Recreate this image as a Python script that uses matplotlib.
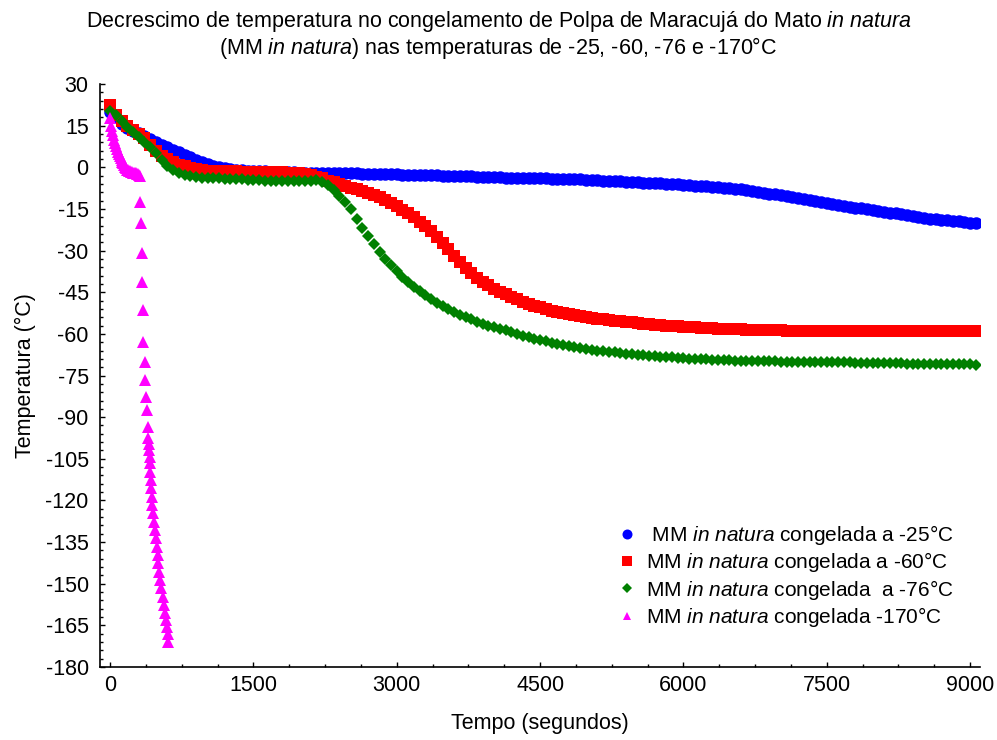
import numpy as np
import matplotlib
matplotlib.use("Agg")
from matplotlib import pyplot as plt
from matplotlib.ticker import MultipleLocator

plt.rcParams['font.family'] = ['Liberation Sans', 'DejaVu Sans']
plt.rcParams['mathtext.fontset'] = 'custom'
plt.rcParams['mathtext.rm'] = 'Liberation Sans'
plt.rcParams['mathtext.it'] = 'Liberation Sans:italic'
plt.rcParams['axes.unicode_minus'] = False

# tempo de amostragem (s) das series -25, -60 e -76 °C
tempo = np.arange(0, 9061, 60)

temp_25 = [
    20.0, 18.0, 15.5, 14.0, 13.0, 12.2, 11.4, 10.3, 9.1, 8.1,
    7.3, 6.4, 5.4, 4.5, 3.6, 2.7, 1.8, 1.1, 0.5, 0.0,
    -0.4, -0.7, -0.9, -1.1, -1.2, -1.3, -1.4, -1.5, -1.6, -1.7,
    -1.7, -1.8, -1.8, -1.9, -1.9, -2.0, -2.0, -2.0, -2.1, -2.1,
    -2.1, -2.2, -2.2, -2.2, -2.3, -2.3, -2.3, -2.4, -2.4, -2.5,
    -2.5, -2.6, -2.6, -2.7, -2.7, -2.8, -2.8, -2.9, -3.1, -3.1,
    -3.2, -3.2, -3.3, -3.3, -3.4, -3.4, -3.5, -3.5, -3.6, -3.7,
    -3.7, -3.8, -3.8, -3.9, -3.9, -4.0, -4.0, -4.1, -4.1, -4.2,
    -4.2, -4.3, -4.4, -4.5, -4.6, -4.7, -4.8, -4.9, -5.0, -5.1,
    -5.2, -5.3, -5.4, -5.5, -5.6, -5.7, -5.8, -5.9, -6.1, -6.2,
    -6.3, -6.4, -6.6, -6.7, -6.9, -7.0, -7.2, -7.4, -7.6, -7.8,
    -8.0, -8.3, -8.6, -8.9, -9.2, -9.5, -9.8, -10.1, -10.4, -10.7,
    -11.0, -11.4, -11.8, -12.2, -12.6, -13.0, -13.3, -13.6, -13.9, -14.2,
    -14.5, -14.8, -15.1, -15.4, -15.7, -16.0, -16.3, -16.6, -16.9, -17.2,
    -17.6, -17.9, -18.2, -18.5, -18.7, -18.9, -19.1, -19.3, -19.5, -19.7,
    -19.9, -20.0,
]

temp_60 = [
    22.4, 19.0, 16.6, 14.8, 13.3, 12.0, 10.5, 8.2, 6.0, 4.2,
    3.0, 1.9, 1.0, 0.3, -0.3, -0.7, -1.0, -1.2, -1.3, -1.4,
    -1.5, -1.5, -1.5, -1.6, -1.6, -1.6, -1.6, -1.7, -1.7, -1.7,
    -1.8, -1.9, -2.0, -2.2, -2.5, -2.9, -3.4, -4.0, -4.8, -5.4,
    -6.0, -6.6, -7.3, -8.0, -8.7, -9.4, -10.0, -10.6, -11.7, -12.9,
    -14.1, -15.3, -16.6, -18.0, -19.6, -21.3, -23.1, -25.0, -27.2, -29.4,
    -31.8, -34.2, -36.4, -38.2, -39.8, -41.2, -42.5, -43.7, -44.8, -45.8,
    -46.7, -47.6, -48.4, -49.2, -49.9, -50.5, -51.1, -51.6, -52.1, -52.5,
    -52.9, -53.2, -53.6, -53.9, -54.2, -54.5, -54.8, -55.0, -55.3, -55.5,
    -55.7, -55.9, -56.1, -56.3, -56.5, -56.7, -56.9, -57.0, -57.2, -57.3,
    -57.5, -57.6, -57.7, -57.8, -57.9, -58.0, -58.1, -58.2, -58.3, -58.4,
    -58.4, -58.5, -58.5, -58.6, -58.6, -58.7, -58.7, -58.7, -58.8, -58.8,
    -58.8, -58.8, -58.9, -58.9, -58.9, -58.9, -58.9, -59.0, -59.0, -59.0,
    -59.0, -59.0, -59.0, -59.0, -59.0, -59.1, -59.1, -59.1, -59.1, -59.1,
    -59.1, -59.1, -59.1, -59.1, -59.1, -59.1, -59.1, -59.1, -59.1, -59.1,
    -59.1, -59.1,
]

temp_76 = [
    20.4, 18.8, 16.6, 14.4, 12.6, 10.9, 9.2, 7.4, 5.1, 2.6,
    0.6, -0.9, -2.0, -2.8, -3.3, -3.6, -3.8, -3.9, -4.0, -4.0,
    -4.1, -4.2, -4.3, -4.4, -4.5, -4.6, -4.7, -4.8, -4.9, -5.0,
    -5.1, -5.1, -5.0, -4.9, -4.8, -4.8, -4.7, -5.2, -6.5, -8.2,
    -10.4, -12.4, -15.2, -18.5, -21.8, -24.8, -27.8, -30.6, -33.0, -35.3,
    -37.4, -39.4, -41.3, -43.0, -44.6, -46.1, -47.5, -48.8, -50.0, -51.1,
    -52.1, -53.1, -54.0, -54.8, -55.6, -56.3, -57.0, -57.6, -58.2, -58.7,
    -59.4, -60.0, -60.6, -61.2, -61.7, -62.2, -62.7, -63.2, -63.6, -64.0,
    -64.4, -64.8, -65.1, -65.4, -65.7, -66.0, -66.3, -66.5, -66.7, -66.9,
    -67.1, -67.3, -67.5, -67.7, -67.9, -68.0, -68.2, -68.3, -68.5, -68.6,
    -68.8, -68.9, -69.0, -69.1, -69.2, -69.3, -69.4, -69.5, -69.5, -69.6,
    -69.6, -69.7, -69.7, -69.8, -69.8, -69.9, -69.9, -70.0, -70.0, -70.0,
    -70.0, -70.1, -70.1, -70.1, -70.2, -70.2, -70.2, -70.3, -70.3, -70.3,
    -70.4, -70.4, -70.4, -70.5, -70.5, -70.5, -70.6, -70.6, -70.6, -70.7,
    -70.7, -70.7, -70.8, -70.8, -70.8, -70.9, -70.9, -70.9, -71.0, -71.0,
    -71.0, -71.1,
]

# serie -170 °C (amostragem propria)
tempo_170 = [
    0, 10, 20, 30, 40, 50, 60, 70, 80, 90,
    100, 110, 120, 130, 140, 150, 160, 170, 180, 190,
    200, 210, 220, 230, 240, 250, 260, 270, 280, 290,
    300, 310, 318, 322, 336, 339, 343, 348, 362, 368,
    380, 386, 392, 400, 405, 411, 415, 419, 423, 426,
    431, 436, 444, 453, 462, 471, 480, 489, 497, 505,
    514, 523, 537, 551, 563, 576, 588, 600, 605, 610,
]
temp_170 = [
    17.7, 15.0, 13.0, 11.5, 10.0, 8.7, 7.6, 6.6, 5.6, 4.8,
    4.0, 3.3, 2.6, 2.0, 1.4, 0.7, 0.1, -0.4, -0.8, -1.0,
    -1.2, -1.4, -1.6, -1.8, -1.9, -2.0, -2.1, -2.2, -2.3, -2.4,
    -2.6, -3.2, -12.4, -20.2, -31.0, -41.2, -51.4, -62.8, -70.0, -76.6,
    -82.6, -87.4, -93.4, -97.6, -99.7, -101.8, -104.2, -106.6, -109.6, -112.6,
    -115.6, -118.7, -121.6, -124.6, -127.6, -130.7, -133.7, -136.7, -139.7, -142.7,
    -145.7, -148.7, -151.7, -154.7, -157.7, -160.7, -163.0, -165.5, -168.0, -170.9,
]

rotulos = [
    r" MM $\it{in\ natura}$ congelada a -25°C",
    r"MM $\it{in\ natura}$ congelada a -60°C",
    r"MM $\it{in\ natura}$ congelada  a -76°C",
    r"MM $\it{in\ natura}$ congelada -170°C",
]

fig = plt.figure(figsize=(9.97, 7.40), dpi=100)
ax = fig.add_axes([0.1008, 0.0986, 0.8818, 0.7879])

ax.plot(tempo, temp_25, linestyle='none', marker='o', markersize=9.0,
        color='#0000ff', markeredgewidth=0, label=rotulos[0])
ax.plot(tempo, temp_60, linestyle='none', marker='s', markersize=8.4,
        color='#ff0000', markeredgewidth=0, label=rotulos[1])
ax.plot(tempo, temp_76, linestyle='none', marker='D', markersize=6.2,
        color='#008000', markeredgewidth=0, label=rotulos[2])
ax.plot(tempo_170, temp_170, linestyle='none', marker='^', markersize=8.0,
        color='#ff00ff', markeredgewidth=0, label=rotulos[3])

ax.set_xlim(-100, 9100)
ax.set_ylim(-180, 30)
ax.xaxis.set_major_locator(MultipleLocator(1500))
ax.xaxis.set_minor_locator(MultipleLocator(375))
ax.yaxis.set_major_locator(MultipleLocator(15))
ax.yaxis.set_minor_locator(MultipleLocator(3))

for s in ['top', 'right']:
    ax.spines[s].set_visible(False)
for s in ['left', 'bottom']:
    ax.spines[s].set_linewidth(1.2)

ax.tick_params(axis='both', which='both', direction='in', labelsize=15.5)
ax.tick_params(axis='both', which='major', length=3.5, width=1.0)
ax.tick_params(axis='both', which='minor', length=2.0, width=1.0)
ax.tick_params(axis='x', which='major', pad=6)
ax.tick_params(axis='y', which='major', pad=8.5)

ax.set_xlabel('Tempo (segundos)', fontsize=15.5, labelpad=12)
ax.set_ylabel('Temperatura (°C)', fontsize=15.5, labelpad=7)

fig.text(0.5, 0.988,
         r"Decrescimo de temperatura no congelamento de Polpa de Maracujá do Mato $\it{in\ natura}$"
         "\n" r"(MM $\it{in\ natura}$) nas temperaturas de -25, -60, -76 e -170°C",
         ha='center', va='top', fontsize=15.5, linespacing=1.05)

leg = ax.legend(loc='upper left', bbox_to_anchor=(0.6084, 0.3075),
                bbox_transform=fig.transFigure, frameon=False, fontsize=15,
                borderpad=0, handlelength=1.0, handletextpad=0.37,
                labelspacing=0.16, markerscale=0.8)

fig.savefig('out.png', dpi=100)
